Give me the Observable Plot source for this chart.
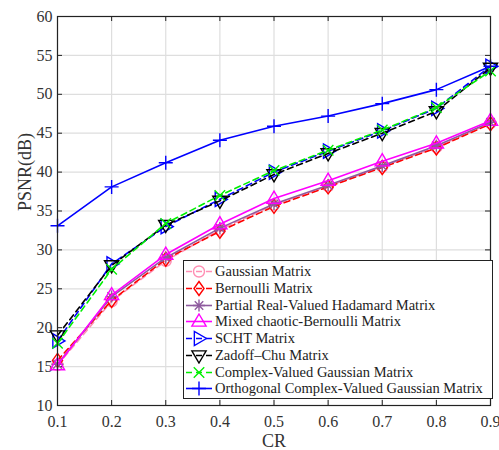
<!DOCTYPE html>
<html>
<head>
<meta charset="utf-8">
<script src="https://cdn.jsdelivr.net/npm/d3@7"></script>
<script src="https://cdn.jsdelivr.net/npm/@observablehq/plot@0.6"></script>
<style>
  html, body { margin: 0; padding: 0; background: #fff; }
  #wrap { position: relative; width: 499px; height: 450px; font-family: "Liberation Serif", "Times New Roman", serif; }
  #legend { position: absolute; left: 183px; top: 260px; width: 308px; height: 135px;
            border: 1px solid #222; background: #fff; box-sizing: content-box; padding-top: 2px; }
  .row { display: flex; align-items: center; height: 16.8px; font-size: 14.5px; color: #222; white-space: nowrap; }
  .row svg { margin-left: 1px; margin-right: 2px; flex: none; }
</style>
</head>
<body>
<div id="wrap"><div id="chart"></div><div id="legend"></div></div>
<script>
// Compression ratio (x axis)
const cr = [0.1, 0.2, 0.3, 0.4, 0.5, 0.6, 0.7, 0.8, 0.9];

// PSNR (dB) for each measurement matrix
const gaussian   = [15.2, 23.4, 28.6, 32.6, 35.8, 38.2, 40.7, 43.2, 46.3];
const bernoulli  = [15.8, 23.5, 28.8, 32.4, 35.6, 38.1, 40.6, 43.1, 46.2];
const hadamard   = [15.3, 24.0, 29.0, 32.8, 35.9, 38.3, 40.8, 43.4, 46.4];
const mixed      = [15.2, 24.2, 29.4, 33.3, 36.6, 38.9, 41.4, 43.7, 46.6];
const scht       = [18.3, 28.2, 33.0, 36.5, 40.0, 42.7, 45.3, 48.2, 53.6];
const zadoffChu  = [19.0, 28.0, 33.2, 36.3, 39.7, 42.4, 45.0, 47.8, 53.4];
const complexG   = [18.0, 27.5, 33.4, 37.0, 40.2, 42.8, 45.4, 48.3, 53.0];
const orthogonal = [33.1, 38.1, 41.2, 44.1, 45.9, 47.2, 48.8, 50.6, 53.6];

// Tick values
const xTicks = [0.1, 0.2, 0.3, 0.4, 0.5, 0.6, 0.7, 0.8, 0.9];
const yTicks = [10, 15, 20, 25, 30, 35, 40, 45, 50, 55, 60];

// Series labels
const names = [
  "Gaussian Matrix",
  "Bernoulli Matrix",
  "Partial Real-Valued Hadamard Matrix",
  "Mixed chaotic-Bernoulli Matrix",
  "SCHT Matrix",
  "Zadoff\u2013Chu Matrix",
  "Complex-Valued Gaussian Matrix",
  "Orthogonal Complex-Valued Gaussian Matrix"
];

// Marker shapes (size is area = pi * r^2, as Plot passes it)
const rad = size => Math.sqrt(size / Math.PI);
const sym = {
  circle: { draw(c, s) { const r = rad(s); c.moveTo(r, 0); c.arc(0, 0, r, 0, 2 * Math.PI); } },
  diamond: { draw(c, s) { const r = rad(s); c.moveTo(0, -r); c.lineTo(r * 0.72, 0); c.lineTo(0, r); c.lineTo(-r * 0.72, 0); c.closePath(); } },
  asterisk: { draw(c, s) { const r = rad(s), d = r * Math.SQRT1_2;
    c.moveTo(-r, 0); c.lineTo(r, 0); c.moveTo(0, -r); c.lineTo(0, r);
    c.moveTo(-d, -d); c.lineTo(d, d); c.moveTo(-d, d); c.lineTo(d, -d); } },
  triUp: { draw(c, s) { const r = rad(s); c.moveTo(0, -r); c.lineTo(r * 0.95, r * 0.62); c.lineTo(-r * 0.95, r * 0.62); c.closePath(); } },
  triRight: { draw(c, s) { const r = rad(s); c.moveTo(r, 0); c.lineTo(-r * 0.62, r * 0.95); c.lineTo(-r * 0.62, -r * 0.95); c.closePath(); } },
  triDown: { draw(c, s) { const r = rad(s); c.moveTo(0, r); c.lineTo(r * 0.95, -r * 0.62); c.lineTo(-r * 0.95, -r * 0.62); c.closePath(); } },
  times: { draw(c, s) { const r = rad(s) * 0.75; c.moveTo(-r, -r); c.lineTo(r, r); c.moveTo(-r, r); c.lineTo(r, -r); } },
  plus: { draw(c, s) { const r = rad(s); c.moveTo(-r, 0); c.lineTo(r, 0); c.moveTo(0, -r); c.lineTo(0, r); } }
};

const series = [
  { name: names[0], values: gaussian,   color: "#ff8fb4", dash: "6,4", symbol: sym.circle,   r: 5.5 },
  { name: names[1], values: bernoulli,  color: "#ff0000", dash: "6,4", symbol: sym.diamond,  r: 7 },
  { name: names[2], values: hadamard,   color: "#8e5a9e", dash: null,  symbol: sym.asterisk, r: 6 },
  { name: names[3], values: mixed,      color: "#ff00ff", dash: null,  symbol: sym.triUp,    r: 7.5 },
  { name: names[4], values: scht,       color: "#0000ff", dash: "6,4", symbol: sym.triRight, r: 7.5 },
  { name: names[5], values: zadoffChu,  color: "#000000", dash: "6,4", symbol: sym.triDown,  r: 7.5 },
  { name: names[6], values: complexG,   color: "#00ee00", dash: "6,4", symbol: sym.times,    r: 7 },
  { name: names[7], values: orthogonal, color: "#0000ff", dash: null,  symbol: sym.plus,     r: 7 }
];

const W = 499, H = 450;
const mL = 57, mR = 9, mT = 16, mB = 45;
const plotW = W - mL - mR, plotH = H - mT - mB;
const tickLen = 5;

const marks = [
  Plot.gridX(xTicks, { stroke: "#dedede", strokeOpacity: 1, strokeWidth: 1.2 }),
  Plot.gridY(yTicks, { stroke: "#dedede", strokeOpacity: 1, strokeWidth: 1.2 }),
  // inward tick marks on all four sides
  Plot.tickX(xTicks, { x: d => d, stroke: "#222", insetTop: plotH - tickLen }),
  Plot.tickX(xTicks, { x: d => d, stroke: "#222", insetBottom: plotH - tickLen }),
  Plot.tickY(yTicks, { y: d => d, stroke: "#222", insetRight: plotW - tickLen }),
  Plot.tickY(yTicks, { y: d => d, stroke: "#222", insetLeft: plotW - tickLen }),
  Plot.axisX(xTicks, { tickSize: 0, tickPadding: 10, tickFormat: d3.format(".1f"), fill: "#333", fontSize: 16,
                       label: null }),
  Plot.axisY(yTicks, { tickSize: 0, tickPadding: 5, fill: "#333", fontSize: 16,
                       label: null }),
  // axis titles
  Plot.text(["CR"], { frameAnchor: "bottom", dy: 41, fontSize: 18, fill: "#333" }),
  Plot.text(["PSNR(dB)"], { frameAnchor: "left", dx: -32, rotate: -90, fontSize: 18, fill: "#333" })
];

for (const s of series) {
  const rows = cr.map((x, i) => ({ x, y: s.values[i] }));
  marks.push(Plot.line(rows, { x: "x", y: "y", stroke: s.color, strokeWidth: 1.6,
                               strokeDasharray: s.dash ?? undefined }));
  marks.push(Plot.dot(rows, { x: "x", y: "y", symbol: s.symbol, r: s.r, fill: "none",
                              stroke: s.color, strokeWidth: 1.4 }));
}
marks.push(Plot.frame({ stroke: "#222", strokeWidth: 1.2 }));

const chart = Plot.plot({
  width: W, height: H,
  marginLeft: mL, marginRight: mR, marginTop: mT, marginBottom: mB,
  x: { domain: [0.1, 0.9] },
  y: { domain: [10, 60] },
  style: { fontFamily: "Liberation Serif, Times New Roman, serif", fontSize: "16px", color: "#333", background: "#fff" },
  marks
});
document.getElementById("chart").appendChild(chart);

// Legend: line sample with marker, then label
const legend = d3.select("#legend");
for (const s of series) {
  const row = legend.append("div").attr("class", "row");
  const svg = row.append("svg").attr("width", 28).attr("height", 17);
  svg.append("line").attr("x1", 1).attr("x2", 27).attr("y1", 8.5).attr("y2", 8.5)
     .attr("stroke", s.color).attr("stroke-width", 1.6)
     .attr("stroke-dasharray", s.dash ?? null);
  const p = d3.path();
  s.symbol.draw(p, Math.PI * s.r * s.r);
  svg.append("path").attr("d", p.toString()).attr("transform", "translate(14,8.5)")
     .attr("fill", "none").attr("stroke", s.color).attr("stroke-width", 1.4);
  row.append("span").text(s.name);
}
</script>
</body>
</html>
